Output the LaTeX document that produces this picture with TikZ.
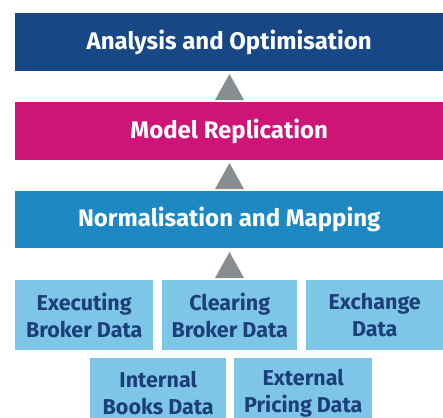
\documentclass[tikz,border=0pt]{standalone}
\usepackage{fontspec}
\setmainfont{Fira Sans}
\begin{document}
\begin{tikzpicture}[x=1pt,y=-1pt,
  layer/.style={anchor=north west,inner sep=0pt,text=white,font=\bfseries\fontsize{24}{28}\selectfont,align=center},
  source/.style={anchor=north west,inner sep=0pt,fill=srcblue,text=txtblue,font=\bfseries\fontsize{21.5}{27}\selectfont,align=center},
  uparrow/.style={fill=arrowgrey,draw=none}]
\definecolor{navy}{HTML}{174785}
\definecolor{magenta}{HTML}{CE1577}
\definecolor{midblue}{HTML}{1E88C2}
\definecolor{srcblue}{HTML}{7DC6E7}
\definecolor{txtblue}{HTML}{1C3F7A}
\definecolor{arrowgrey}{HTML}{8A8D8F}
\path[use as bounding box] (0,0) rectangle (443,417);
\begin{scope}
\clip (0,0) rectangle (443,417);
% stacked processing layers
\node[layer,fill=navy,minimum width=428pt,minimum height=58pt] (analysis) at (15,13) {Analysis and Optimisation};
\node[layer,fill=magenta,minimum width=428pt,minimum height=58pt] (model) at (15,102) {Model Replication};
\node[layer,fill=midblue,minimum width=428pt,minimum height=57pt] (norm) at (15,191) {Normalisation and Mapping};
% data sources
\node[source,minimum width=138pt,minimum height=70pt] (exec) at (15,280) {Executing\\Broker Data};
\node[source,minimum width=135pt,minimum height=70pt] (clear) at (162,280) {Clearing\\Broker Data};
\node[source,minimum width=137pt,minimum height=70pt] (exch) at (306,280) {Exchange\\Data};
\node[source,minimum width=136pt,minimum height=70pt] (books) at (90,358) {Internal\\Books Data};
\node[source,minimum width=138pt,minimum height=70pt] (pricing) at (234,358) {External\\Pricing Data};
% flow arrows between layers
\coordinate (a1) at (229.5,74);
\coordinate (a2) at (229.5,163);
\coordinate (a3) at (229.5,252);
\foreach \a in {a1,a2,a3}
  \fill[uparrow] (\a) -- ++(14.5,26) -- ++(-29,0) -- cycle;
\end{scope}
\end{tikzpicture}
\end{document}
